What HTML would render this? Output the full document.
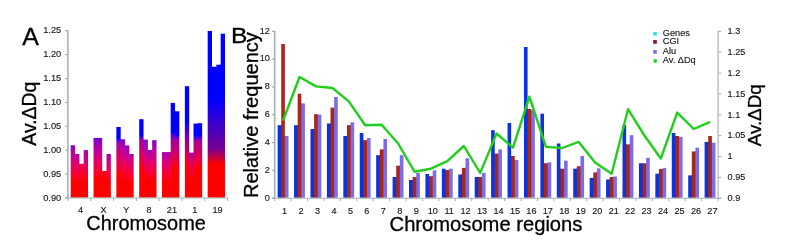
<!DOCTYPE html>
<html><head><meta charset="utf-8"><title>Figure</title>
<style>
html,body{margin:0;padding:0;background:#fff;}
body{width:785px;height:246px;overflow:hidden;}
svg{display:block;font-family:"Liberation Sans",Arial,sans-serif;filter:blur(0.45px);}
</style></head><body>
<svg width="785" height="246" viewBox="0 0 785 246">
<rect width="785" height="246" fill="#ffffff"/>
<defs><linearGradient id="g1" gradientUnits="userSpaceOnUse" x1="0" y1="197.60" x2="0" y2="145.30"><stop offset="0.000" stop-color="#ff0000"/><stop offset="0.307" stop-color="#ff0000"/><stop offset="0.365" stop-color="#fe0013"/><stop offset="0.423" stop-color="#fa0025"/><stop offset="0.481" stop-color="#f60037"/><stop offset="0.538" stop-color="#f00048"/><stop offset="0.596" stop-color="#e90059"/><stop offset="0.654" stop-color="#e1006a"/><stop offset="0.711" stop-color="#d7007a"/><stop offset="0.769" stop-color="#cc008a"/><stop offset="0.827" stop-color="#bf009b"/><stop offset="0.885" stop-color="#b000ab"/><stop offset="0.942" stop-color="#9f00bb"/><stop offset="1.000" stop-color="#8b00cb"/></linearGradient><linearGradient id="g2" gradientUnits="userSpaceOnUse" x1="0" y1="197.60" x2="0" y2="154.00"><stop offset="0.000" stop-color="#ff0000"/><stop offset="0.344" stop-color="#ff0000"/><stop offset="0.399" stop-color="#fe0011"/><stop offset="0.454" stop-color="#fc0020"/><stop offset="0.508" stop-color="#f8002f"/><stop offset="0.563" stop-color="#f4003e"/><stop offset="0.618" stop-color="#ef004c"/><stop offset="0.672" stop-color="#e8005a"/><stop offset="0.727" stop-color="#e10069"/><stop offset="0.781" stop-color="#d90077"/><stop offset="0.836" stop-color="#d00084"/><stop offset="0.891" stop-color="#c60092"/><stop offset="0.945" stop-color="#ba00a0"/><stop offset="1.000" stop-color="#ad00ae"/></linearGradient><linearGradient id="g3" gradientUnits="userSpaceOnUse" x1="0" y1="197.60" x2="0" y2="163.80"><stop offset="0.000" stop-color="#ff0000"/><stop offset="0.444" stop-color="#ff0000"/><stop offset="0.490" stop-color="#ff0007"/><stop offset="0.536" stop-color="#fe000d"/><stop offset="0.583" stop-color="#fe0014"/><stop offset="0.629" stop-color="#fd001a"/><stop offset="0.676" stop-color="#fc0020"/><stop offset="0.722" stop-color="#fa0026"/><stop offset="0.768" stop-color="#f9002c"/><stop offset="0.815" stop-color="#f80031"/><stop offset="0.861" stop-color="#f60037"/><stop offset="0.907" stop-color="#f4003d"/><stop offset="0.954" stop-color="#f20043"/><stop offset="1.000" stop-color="#f00049"/></linearGradient><linearGradient id="g4" gradientUnits="userSpaceOnUse" x1="0" y1="197.60" x2="0" y2="150.10"><stop offset="0.000" stop-color="#ff0000"/><stop offset="0.326" stop-color="#ff0000"/><stop offset="0.382" stop-color="#fe0012"/><stop offset="0.438" stop-color="#fb0023"/><stop offset="0.494" stop-color="#f70033"/><stop offset="0.550" stop-color="#f20042"/><stop offset="0.607" stop-color="#ec0052"/><stop offset="0.663" stop-color="#e50061"/><stop offset="0.719" stop-color="#dd0071"/><stop offset="0.775" stop-color="#d30080"/><stop offset="0.831" stop-color="#c8008f"/><stop offset="0.888" stop-color="#bc009e"/><stop offset="0.944" stop-color="#ae00ad"/><stop offset="1.000" stop-color="#9e00bc"/></linearGradient><linearGradient id="g5" gradientUnits="userSpaceOnUse" x1="0" y1="197.60" x2="0" y2="137.90"><stop offset="0.000" stop-color="#ff0000"/><stop offset="0.302" stop-color="#ff0000"/><stop offset="0.360" stop-color="#fd0015"/><stop offset="0.418" stop-color="#fa0028"/><stop offset="0.476" stop-color="#f5003b"/><stop offset="0.534" stop-color="#ee004e"/><stop offset="0.593" stop-color="#e60060"/><stop offset="0.651" stop-color="#dc0072"/><stop offset="0.709" stop-color="#d00084"/><stop offset="0.767" stop-color="#c30095"/><stop offset="0.825" stop-color="#b400a7"/><stop offset="0.884" stop-color="#a200b8"/><stop offset="0.942" stop-color="#8d00ca"/><stop offset="1.000" stop-color="#7300db"/></linearGradient><linearGradient id="g6" gradientUnits="userSpaceOnUse" x1="0" y1="197.60" x2="0" y2="137.90"><stop offset="0.000" stop-color="#ff0000"/><stop offset="0.302" stop-color="#ff0000"/><stop offset="0.360" stop-color="#fd0015"/><stop offset="0.418" stop-color="#fa0028"/><stop offset="0.476" stop-color="#f5003b"/><stop offset="0.534" stop-color="#ee004e"/><stop offset="0.593" stop-color="#e60060"/><stop offset="0.651" stop-color="#dc0072"/><stop offset="0.709" stop-color="#d00084"/><stop offset="0.767" stop-color="#c30095"/><stop offset="0.825" stop-color="#b400a7"/><stop offset="0.884" stop-color="#a200b8"/><stop offset="0.942" stop-color="#8d00ca"/><stop offset="1.000" stop-color="#7300db"/></linearGradient><linearGradient id="g7" gradientUnits="userSpaceOnUse" x1="0" y1="197.60" x2="0" y2="171.00"><stop offset="0.000" stop-color="#ff0000"/><stop offset="0.564" stop-color="#ff0000"/><stop offset="0.600" stop-color="#ff0002"/><stop offset="0.637" stop-color="#ff0003"/><stop offset="0.673" stop-color="#ff0005"/><stop offset="0.709" stop-color="#ff0006"/><stop offset="0.746" stop-color="#ff0008"/><stop offset="0.782" stop-color="#ff0009"/><stop offset="0.818" stop-color="#ff000a"/><stop offset="0.855" stop-color="#fe000c"/><stop offset="0.891" stop-color="#fe000d"/><stop offset="0.927" stop-color="#fe000e"/><stop offset="0.964" stop-color="#fe0010"/><stop offset="1.000" stop-color="#fe0011"/></linearGradient><linearGradient id="g8" gradientUnits="userSpaceOnUse" x1="0" y1="197.60" x2="0" y2="154.00"><stop offset="0.000" stop-color="#ff0000"/><stop offset="0.344" stop-color="#ff0000"/><stop offset="0.399" stop-color="#fe0011"/><stop offset="0.454" stop-color="#fc0020"/><stop offset="0.508" stop-color="#f8002f"/><stop offset="0.563" stop-color="#f4003e"/><stop offset="0.618" stop-color="#ef004c"/><stop offset="0.672" stop-color="#e8005a"/><stop offset="0.727" stop-color="#e10069"/><stop offset="0.781" stop-color="#d90077"/><stop offset="0.836" stop-color="#d00084"/><stop offset="0.891" stop-color="#c60092"/><stop offset="0.945" stop-color="#ba00a0"/><stop offset="1.000" stop-color="#ad00ae"/></linearGradient><linearGradient id="g9" gradientUnits="userSpaceOnUse" x1="0" y1="197.60" x2="0" y2="127.00"><stop offset="0.000" stop-color="#ff0000"/><stop offset="0.353" stop-color="#ff0000"/><stop offset="0.386" stop-color="#f90021"/><stop offset="0.420" stop-color="#f30032"/><stop offset="0.454" stop-color="#ed0041"/><stop offset="0.488" stop-color="#e6004e"/><stop offset="0.522" stop-color="#e00059"/><stop offset="0.556" stop-color="#d90064"/><stop offset="0.589" stop-color="#d3006e"/><stop offset="0.623" stop-color="#cc0078"/><stop offset="0.657" stop-color="#c50081"/><stop offset="0.691" stop-color="#be008a"/><stop offset="0.725" stop-color="#b70093"/><stop offset="0.758" stop-color="#af009b"/><stop offset="0.764" stop-color="#a600a4"/><stop offset="0.770" stop-color="#9d00ae"/><stop offset="0.776" stop-color="#9300b7"/><stop offset="0.782" stop-color="#8800c0"/><stop offset="0.788" stop-color="#7d00c8"/><stop offset="0.794" stop-color="#7200d1"/><stop offset="0.800" stop-color="#6500d9"/><stop offset="0.806" stop-color="#5800e1"/><stop offset="0.811" stop-color="#4a00e8"/><stop offset="0.817" stop-color="#3900f0"/><stop offset="0.823" stop-color="#2500f8"/><stop offset="0.829" stop-color="#0000ff"/><stop offset="1.000" stop-color="#0000ff"/></linearGradient><linearGradient id="g10" gradientUnits="userSpaceOnUse" x1="0" y1="197.60" x2="0" y2="139.30"><stop offset="0.000" stop-color="#ff0000"/><stop offset="0.303" stop-color="#ff0000"/><stop offset="0.361" stop-color="#fd0015"/><stop offset="0.419" stop-color="#fa0028"/><stop offset="0.477" stop-color="#f5003a"/><stop offset="0.535" stop-color="#ee004d"/><stop offset="0.593" stop-color="#e6005e"/><stop offset="0.651" stop-color="#dd0070"/><stop offset="0.709" stop-color="#d20082"/><stop offset="0.768" stop-color="#c50093"/><stop offset="0.826" stop-color="#b600a5"/><stop offset="0.884" stop-color="#a500b6"/><stop offset="0.942" stop-color="#9100c7"/><stop offset="1.000" stop-color="#7800d8"/></linearGradient><linearGradient id="g11" gradientUnits="userSpaceOnUse" x1="0" y1="197.60" x2="0" y2="145.50"><stop offset="0.000" stop-color="#ff0000"/><stop offset="0.308" stop-color="#ff0000"/><stop offset="0.365" stop-color="#fe0013"/><stop offset="0.423" stop-color="#fb0025"/><stop offset="0.481" stop-color="#f60037"/><stop offset="0.538" stop-color="#f00048"/><stop offset="0.596" stop-color="#e90059"/><stop offset="0.654" stop-color="#e10069"/><stop offset="0.712" stop-color="#d7007a"/><stop offset="0.769" stop-color="#cc008a"/><stop offset="0.827" stop-color="#bf009a"/><stop offset="0.885" stop-color="#b000ab"/><stop offset="0.942" stop-color="#9f00bb"/><stop offset="1.000" stop-color="#8c00cb"/></linearGradient><linearGradient id="g12" gradientUnits="userSpaceOnUse" x1="0" y1="197.60" x2="0" y2="154.00"><stop offset="0.000" stop-color="#ff0000"/><stop offset="0.344" stop-color="#ff0000"/><stop offset="0.399" stop-color="#fe0011"/><stop offset="0.454" stop-color="#fc0020"/><stop offset="0.508" stop-color="#f8002f"/><stop offset="0.563" stop-color="#f4003e"/><stop offset="0.618" stop-color="#ef004c"/><stop offset="0.672" stop-color="#e8005a"/><stop offset="0.727" stop-color="#e10069"/><stop offset="0.781" stop-color="#d90077"/><stop offset="0.836" stop-color="#d00084"/><stop offset="0.891" stop-color="#c60092"/><stop offset="0.945" stop-color="#ba00a0"/><stop offset="1.000" stop-color="#ad00ae"/></linearGradient><linearGradient id="g13" gradientUnits="userSpaceOnUse" x1="0" y1="197.60" x2="0" y2="119.20"><stop offset="0.000" stop-color="#ff0000"/><stop offset="0.381" stop-color="#ff0000"/><stop offset="0.410" stop-color="#f8001b"/><stop offset="0.439" stop-color="#f1002b"/><stop offset="0.467" stop-color="#ea0039"/><stop offset="0.496" stop-color="#e30046"/><stop offset="0.525" stop-color="#dc0051"/><stop offset="0.553" stop-color="#d4005c"/><stop offset="0.582" stop-color="#cd0067"/><stop offset="0.611" stop-color="#c50071"/><stop offset="0.639" stop-color="#bd007a"/><stop offset="0.668" stop-color="#b60084"/><stop offset="0.697" stop-color="#ae008d"/><stop offset="0.725" stop-color="#a50096"/><stop offset="0.731" stop-color="#9c009f"/><stop offset="0.736" stop-color="#9200a9"/><stop offset="0.741" stop-color="#8700b2"/><stop offset="0.747" stop-color="#7d00bc"/><stop offset="0.752" stop-color="#7200c4"/><stop offset="0.757" stop-color="#6600cd"/><stop offset="0.763" stop-color="#5a00d6"/><stop offset="0.768" stop-color="#4d00de"/><stop offset="0.773" stop-color="#3f00e7"/><stop offset="0.779" stop-color="#3000ef"/><stop offset="0.784" stop-color="#1d00f7"/><stop offset="0.789" stop-color="#0000ff"/><stop offset="1.000" stop-color="#0000ff"/></linearGradient><linearGradient id="g14" gradientUnits="userSpaceOnUse" x1="0" y1="197.60" x2="0" y2="139.60"><stop offset="0.000" stop-color="#ff0000"/><stop offset="0.303" stop-color="#ff0000"/><stop offset="0.361" stop-color="#fd0015"/><stop offset="0.419" stop-color="#fa0028"/><stop offset="0.477" stop-color="#f5003a"/><stop offset="0.535" stop-color="#ee004c"/><stop offset="0.593" stop-color="#e6005e"/><stop offset="0.651" stop-color="#dd0070"/><stop offset="0.709" stop-color="#d20081"/><stop offset="0.768" stop-color="#c50093"/><stop offset="0.826" stop-color="#b600a4"/><stop offset="0.884" stop-color="#a500b5"/><stop offset="0.942" stop-color="#9100c6"/><stop offset="1.000" stop-color="#7900d7"/></linearGradient><linearGradient id="g15" gradientUnits="userSpaceOnUse" x1="0" y1="197.60" x2="0" y2="150.00"><stop offset="0.000" stop-color="#ff0000"/><stop offset="0.325" stop-color="#ff0000"/><stop offset="0.381" stop-color="#fe0012"/><stop offset="0.438" stop-color="#fb0023"/><stop offset="0.494" stop-color="#f70033"/><stop offset="0.550" stop-color="#f20043"/><stop offset="0.606" stop-color="#ec0052"/><stop offset="0.663" stop-color="#e50062"/><stop offset="0.719" stop-color="#dc0071"/><stop offset="0.775" stop-color="#d30080"/><stop offset="0.831" stop-color="#c8008f"/><stop offset="0.888" stop-color="#bc009e"/><stop offset="0.944" stop-color="#ae00ad"/><stop offset="1.000" stop-color="#9e00bc"/></linearGradient><linearGradient id="g16" gradientUnits="userSpaceOnUse" x1="0" y1="197.60" x2="0" y2="140.20"><stop offset="0.000" stop-color="#ff0000"/><stop offset="0.303" stop-color="#ff0000"/><stop offset="0.361" stop-color="#fd0014"/><stop offset="0.419" stop-color="#fa0027"/><stop offset="0.477" stop-color="#f5003a"/><stop offset="0.535" stop-color="#ef004c"/><stop offset="0.594" stop-color="#e7005e"/><stop offset="0.652" stop-color="#dd006f"/><stop offset="0.710" stop-color="#d20081"/><stop offset="0.768" stop-color="#c60092"/><stop offset="0.826" stop-color="#b700a3"/><stop offset="0.884" stop-color="#a700b4"/><stop offset="0.942" stop-color="#9300c5"/><stop offset="1.000" stop-color="#7b00d6"/></linearGradient><linearGradient id="g17" gradientUnits="userSpaceOnUse" x1="0" y1="197.60" x2="0" y2="152.10"><stop offset="0.000" stop-color="#ff0000"/><stop offset="0.335" stop-color="#ff0000"/><stop offset="0.390" stop-color="#fe0011"/><stop offset="0.446" stop-color="#fb0021"/><stop offset="0.501" stop-color="#f80031"/><stop offset="0.557" stop-color="#f30040"/><stop offset="0.612" stop-color="#ed004f"/><stop offset="0.667" stop-color="#e7005e"/><stop offset="0.723" stop-color="#df006d"/><stop offset="0.778" stop-color="#d6007b"/><stop offset="0.834" stop-color="#cc008a"/><stop offset="0.889" stop-color="#c10098"/><stop offset="0.945" stop-color="#b400a6"/><stop offset="1.000" stop-color="#a600b5"/></linearGradient><linearGradient id="g18" gradientUnits="userSpaceOnUse" x1="0" y1="197.60" x2="0" y2="152.10"><stop offset="0.000" stop-color="#ff0000"/><stop offset="0.335" stop-color="#ff0000"/><stop offset="0.390" stop-color="#fe0011"/><stop offset="0.446" stop-color="#fb0021"/><stop offset="0.501" stop-color="#f80031"/><stop offset="0.557" stop-color="#f30040"/><stop offset="0.612" stop-color="#ed004f"/><stop offset="0.667" stop-color="#e7005e"/><stop offset="0.723" stop-color="#df006d"/><stop offset="0.778" stop-color="#d6007b"/><stop offset="0.834" stop-color="#cc008a"/><stop offset="0.889" stop-color="#c10098"/><stop offset="0.945" stop-color="#b400a6"/><stop offset="1.000" stop-color="#a600b5"/></linearGradient><linearGradient id="g19" gradientUnits="userSpaceOnUse" x1="0" y1="197.60" x2="0" y2="102.90"><stop offset="0.000" stop-color="#ff0000"/><stop offset="0.320" stop-color="#ff0000"/><stop offset="0.344" stop-color="#f7001a"/><stop offset="0.368" stop-color="#f0002b"/><stop offset="0.392" stop-color="#e8003a"/><stop offset="0.416" stop-color="#e00047"/><stop offset="0.440" stop-color="#d80053"/><stop offset="0.464" stop-color="#d0005f"/><stop offset="0.488" stop-color="#c7006a"/><stop offset="0.512" stop-color="#bf0074"/><stop offset="0.536" stop-color="#b6007f"/><stop offset="0.560" stop-color="#ae0088"/><stop offset="0.584" stop-color="#a50092"/><stop offset="0.608" stop-color="#9b009b"/><stop offset="0.615" stop-color="#9200a5"/><stop offset="0.622" stop-color="#8800ae"/><stop offset="0.628" stop-color="#7f00b6"/><stop offset="0.635" stop-color="#7400bf"/><stop offset="0.641" stop-color="#6a00c7"/><stop offset="0.648" stop-color="#5f00d0"/><stop offset="0.655" stop-color="#5300d8"/><stop offset="0.661" stop-color="#4700e0"/><stop offset="0.668" stop-color="#3a00e8"/><stop offset="0.675" stop-color="#2b00f0"/><stop offset="0.681" stop-color="#1a00f7"/><stop offset="0.688" stop-color="#0000ff"/><stop offset="1.000" stop-color="#0000ff"/></linearGradient><linearGradient id="g20" gradientUnits="userSpaceOnUse" x1="0" y1="197.60" x2="0" y2="111.30"><stop offset="0.000" stop-color="#ff0000"/><stop offset="0.344" stop-color="#ff0000"/><stop offset="0.371" stop-color="#f8001b"/><stop offset="0.398" stop-color="#f0002c"/><stop offset="0.424" stop-color="#e9003a"/><stop offset="0.451" stop-color="#e10047"/><stop offset="0.478" stop-color="#d90053"/><stop offset="0.504" stop-color="#d1005f"/><stop offset="0.531" stop-color="#c90069"/><stop offset="0.558" stop-color="#c10074"/><stop offset="0.585" stop-color="#b9007e"/><stop offset="0.611" stop-color="#b10087"/><stop offset="0.638" stop-color="#a80091"/><stop offset="0.665" stop-color="#9f009a"/><stop offset="0.670" stop-color="#9600a3"/><stop offset="0.674" stop-color="#8c00ac"/><stop offset="0.679" stop-color="#8200b5"/><stop offset="0.684" stop-color="#7800be"/><stop offset="0.689" stop-color="#6d00c7"/><stop offset="0.694" stop-color="#6200cf"/><stop offset="0.699" stop-color="#5600d7"/><stop offset="0.703" stop-color="#4900e0"/><stop offset="0.708" stop-color="#3c00e8"/><stop offset="0.713" stop-color="#2d00ef"/><stop offset="0.718" stop-color="#1c00f7"/><stop offset="0.723" stop-color="#0000ff"/><stop offset="1.000" stop-color="#0000ff"/></linearGradient><linearGradient id="g21" gradientUnits="userSpaceOnUse" x1="0" y1="197.60" x2="0" y2="86.20"><stop offset="0.000" stop-color="#ff0000"/><stop offset="0.293" stop-color="#ff0000"/><stop offset="0.311" stop-color="#f60014"/><stop offset="0.330" stop-color="#ee0022"/><stop offset="0.348" stop-color="#e50030"/><stop offset="0.367" stop-color="#dc003c"/><stop offset="0.386" stop-color="#d30048"/><stop offset="0.404" stop-color="#ca0054"/><stop offset="0.423" stop-color="#c1005f"/><stop offset="0.441" stop-color="#b80069"/><stop offset="0.460" stop-color="#ae0074"/><stop offset="0.478" stop-color="#a5007e"/><stop offset="0.497" stop-color="#9b0088"/><stop offset="0.515" stop-color="#920092"/><stop offset="0.528" stop-color="#88009c"/><stop offset="0.541" stop-color="#7e00a5"/><stop offset="0.554" stop-color="#7300af"/><stop offset="0.566" stop-color="#6900b8"/><stop offset="0.579" stop-color="#5e00c1"/><stop offset="0.592" stop-color="#5300ca"/><stop offset="0.605" stop-color="#4800d3"/><stop offset="0.617" stop-color="#3c00dc"/><stop offset="0.630" stop-color="#3000e5"/><stop offset="0.643" stop-color="#2200ee"/><stop offset="0.656" stop-color="#1400f6"/><stop offset="0.669" stop-color="#0000ff"/><stop offset="1.000" stop-color="#0000ff"/></linearGradient><linearGradient id="g22" gradientUnits="userSpaceOnUse" x1="0" y1="197.60" x2="0" y2="152.70"><stop offset="0.000" stop-color="#ff0000"/><stop offset="0.338" stop-color="#ff0000"/><stop offset="0.393" stop-color="#fe0011"/><stop offset="0.448" stop-color="#fb0021"/><stop offset="0.503" stop-color="#f80030"/><stop offset="0.558" stop-color="#f3003f"/><stop offset="0.614" stop-color="#ee004e"/><stop offset="0.669" stop-color="#e7005d"/><stop offset="0.724" stop-color="#e0006b"/><stop offset="0.779" stop-color="#d7007a"/><stop offset="0.834" stop-color="#cd0088"/><stop offset="0.890" stop-color="#c20096"/><stop offset="0.945" stop-color="#b600a4"/><stop offset="1.000" stop-color="#a800b3"/></linearGradient><linearGradient id="g23" gradientUnits="userSpaceOnUse" x1="0" y1="197.60" x2="0" y2="123.60"><stop offset="0.000" stop-color="#ff0000"/><stop offset="0.405" stop-color="#ff0000"/><stop offset="0.435" stop-color="#f8001a"/><stop offset="0.465" stop-color="#f2002b"/><stop offset="0.495" stop-color="#eb0039"/><stop offset="0.525" stop-color="#e40045"/><stop offset="0.555" stop-color="#dd0050"/><stop offset="0.585" stop-color="#d6005b"/><stop offset="0.615" stop-color="#cf0065"/><stop offset="0.645" stop-color="#c7006f"/><stop offset="0.675" stop-color="#c00079"/><stop offset="0.705" stop-color="#b80082"/><stop offset="0.735" stop-color="#b1008a"/><stop offset="0.765" stop-color="#a90093"/><stop offset="0.770" stop-color="#9f009d"/><stop offset="0.776" stop-color="#9500a7"/><stop offset="0.782" stop-color="#8a00b1"/><stop offset="0.787" stop-color="#8000ba"/><stop offset="0.793" stop-color="#7400c3"/><stop offset="0.799" stop-color="#6900cc"/><stop offset="0.804" stop-color="#5c00d5"/><stop offset="0.810" stop-color="#4f00de"/><stop offset="0.816" stop-color="#4100e6"/><stop offset="0.821" stop-color="#3100ef"/><stop offset="0.827" stop-color="#1e00f7"/><stop offset="0.832" stop-color="#0000ff"/><stop offset="1.000" stop-color="#0000ff"/></linearGradient><linearGradient id="g24" gradientUnits="userSpaceOnUse" x1="0" y1="197.60" x2="0" y2="123.20"><stop offset="0.000" stop-color="#ff0000"/><stop offset="0.403" stop-color="#ff0000"/><stop offset="0.433" stop-color="#f8001b"/><stop offset="0.463" stop-color="#f2002b"/><stop offset="0.493" stop-color="#eb0039"/><stop offset="0.522" stop-color="#e40045"/><stop offset="0.552" stop-color="#dd0050"/><stop offset="0.582" stop-color="#d6005b"/><stop offset="0.612" stop-color="#cf0066"/><stop offset="0.642" stop-color="#c7006f"/><stop offset="0.672" stop-color="#c00079"/><stop offset="0.701" stop-color="#b80082"/><stop offset="0.731" stop-color="#b0008b"/><stop offset="0.761" stop-color="#a90093"/><stop offset="0.767" stop-color="#9f009d"/><stop offset="0.772" stop-color="#9500a7"/><stop offset="0.778" stop-color="#8a00b1"/><stop offset="0.783" stop-color="#7f00ba"/><stop offset="0.789" stop-color="#7400c3"/><stop offset="0.795" stop-color="#6800cc"/><stop offset="0.800" stop-color="#5c00d5"/><stop offset="0.806" stop-color="#4f00de"/><stop offset="0.811" stop-color="#4100e6"/><stop offset="0.817" stop-color="#3100ef"/><stop offset="0.823" stop-color="#1e00f7"/><stop offset="0.828" stop-color="#0000ff"/><stop offset="1.000" stop-color="#0000ff"/></linearGradient><linearGradient id="g25" gradientUnits="userSpaceOnUse" x1="0" y1="197.60" x2="0" y2="31.00"><stop offset="0.000" stop-color="#ff0000"/><stop offset="0.201" stop-color="#ff0000"/><stop offset="0.209" stop-color="#f4000e"/><stop offset="0.216" stop-color="#e9001a"/><stop offset="0.224" stop-color="#dd0027"/><stop offset="0.231" stop-color="#d20033"/><stop offset="0.239" stop-color="#c7003f"/><stop offset="0.246" stop-color="#bc004b"/><stop offset="0.254" stop-color="#b00056"/><stop offset="0.261" stop-color="#a50062"/><stop offset="0.269" stop-color="#9a006e"/><stop offset="0.276" stop-color="#8e0079"/><stop offset="0.284" stop-color="#830085"/><stop offset="0.291" stop-color="#770090"/><stop offset="0.316" stop-color="#6e009a"/><stop offset="0.340" stop-color="#6400a3"/><stop offset="0.365" stop-color="#5b00ac"/><stop offset="0.389" stop-color="#5100b6"/><stop offset="0.414" stop-color="#4700bf"/><stop offset="0.438" stop-color="#3e00c8"/><stop offset="0.463" stop-color="#3400d1"/><stop offset="0.488" stop-color="#2a00da"/><stop offset="0.512" stop-color="#2000e4"/><stop offset="0.537" stop-color="#1600ed"/><stop offset="0.561" stop-color="#0b00f6"/><stop offset="0.586" stop-color="#0000ff"/><stop offset="1.000" stop-color="#0000ff"/></linearGradient><linearGradient id="g26" gradientUnits="userSpaceOnUse" x1="0" y1="197.60" x2="0" y2="66.80"><stop offset="0.000" stop-color="#ff0000"/><stop offset="0.256" stop-color="#ff0000"/><stop offset="0.266" stop-color="#f4000e"/><stop offset="0.275" stop-color="#e9001a"/><stop offset="0.285" stop-color="#de0027"/><stop offset="0.295" stop-color="#d20033"/><stop offset="0.304" stop-color="#c7003f"/><stop offset="0.314" stop-color="#bc004b"/><stop offset="0.323" stop-color="#b10056"/><stop offset="0.333" stop-color="#a50062"/><stop offset="0.343" stop-color="#9a006e"/><stop offset="0.352" stop-color="#8e0079"/><stop offset="0.362" stop-color="#830085"/><stop offset="0.371" stop-color="#770090"/><stop offset="0.403" stop-color="#6e009a"/><stop offset="0.434" stop-color="#6400a3"/><stop offset="0.465" stop-color="#5b00ac"/><stop offset="0.496" stop-color="#5100b6"/><stop offset="0.527" stop-color="#4800bf"/><stop offset="0.558" stop-color="#3e00c8"/><stop offset="0.589" stop-color="#3400d1"/><stop offset="0.620" stop-color="#2a00da"/><stop offset="0.651" stop-color="#2000e4"/><stop offset="0.682" stop-color="#1600ed"/><stop offset="0.713" stop-color="#0b00f6"/><stop offset="0.744" stop-color="#0000ff"/><stop offset="1.000" stop-color="#0000ff"/></linearGradient><linearGradient id="g27" gradientUnits="userSpaceOnUse" x1="0" y1="197.60" x2="0" y2="64.70"><stop offset="0.000" stop-color="#ff0000"/><stop offset="0.252" stop-color="#ff0000"/><stop offset="0.261" stop-color="#f4000e"/><stop offset="0.271" stop-color="#e9001a"/><stop offset="0.280" stop-color="#dd0027"/><stop offset="0.290" stop-color="#d20033"/><stop offset="0.299" stop-color="#c7003f"/><stop offset="0.309" stop-color="#bc004b"/><stop offset="0.318" stop-color="#b00056"/><stop offset="0.327" stop-color="#a50062"/><stop offset="0.337" stop-color="#9a006e"/><stop offset="0.346" stop-color="#8e0079"/><stop offset="0.356" stop-color="#830085"/><stop offset="0.365" stop-color="#770090"/><stop offset="0.396" stop-color="#6e009a"/><stop offset="0.427" stop-color="#6400a3"/><stop offset="0.457" stop-color="#5b00ac"/><stop offset="0.488" stop-color="#5100b6"/><stop offset="0.519" stop-color="#4700bf"/><stop offset="0.550" stop-color="#3e00c8"/><stop offset="0.580" stop-color="#3400d1"/><stop offset="0.611" stop-color="#2a00da"/><stop offset="0.642" stop-color="#2000e4"/><stop offset="0.673" stop-color="#1600ed"/><stop offset="0.704" stop-color="#0b00f6"/><stop offset="0.734" stop-color="#0000ff"/><stop offset="1.000" stop-color="#0000ff"/></linearGradient><linearGradient id="g28" gradientUnits="userSpaceOnUse" x1="0" y1="197.60" x2="0" y2="33.70"><stop offset="0.000" stop-color="#ff0000"/><stop offset="0.204" stop-color="#ff0000"/><stop offset="0.212" stop-color="#f4000e"/><stop offset="0.220" stop-color="#e9001a"/><stop offset="0.227" stop-color="#dd0027"/><stop offset="0.235" stop-color="#d20033"/><stop offset="0.243" stop-color="#c7003f"/><stop offset="0.250" stop-color="#bc004b"/><stop offset="0.258" stop-color="#b00056"/><stop offset="0.265" stop-color="#a50062"/><stop offset="0.273" stop-color="#9a006e"/><stop offset="0.281" stop-color="#8e0079"/><stop offset="0.288" stop-color="#830085"/><stop offset="0.296" stop-color="#770090"/><stop offset="0.321" stop-color="#6e009a"/><stop offset="0.346" stop-color="#6400a3"/><stop offset="0.371" stop-color="#5b00ac"/><stop offset="0.396" stop-color="#5100b6"/><stop offset="0.421" stop-color="#4700bf"/><stop offset="0.446" stop-color="#3e00c8"/><stop offset="0.471" stop-color="#3400d1"/><stop offset="0.496" stop-color="#2a00da"/><stop offset="0.521" stop-color="#2000e4"/><stop offset="0.546" stop-color="#1600ed"/><stop offset="0.571" stop-color="#0b00f6"/><stop offset="0.595" stop-color="#0000ff"/><stop offset="1.000" stop-color="#0000ff"/></linearGradient></defs>
<g><rect x="75" y="154.00" width="1" height="43.60" fill="url(#g1)"/><rect x="79" y="163.80" width="1" height="33.80" fill="url(#g2)"/><rect x="83" y="163.80" width="1" height="33.80" fill="url(#g3)"/><rect x="97" y="137.90" width="1" height="59.70" fill="url(#g5)"/><rect x="102" y="171.00" width="1" height="26.60" fill="url(#g6)"/><rect x="106" y="171.00" width="1" height="26.60" fill="url(#g7)"/><rect x="120" y="139.30" width="1" height="58.30" fill="url(#g9)"/><rect x="125" y="145.50" width="1" height="52.10" fill="url(#g10)"/><rect x="129" y="154.00" width="1" height="43.60" fill="url(#g11)"/><rect x="143" y="139.60" width="1" height="58.00" fill="url(#g13)"/><rect x="147" y="150.00" width="1" height="47.60" fill="url(#g14)"/><rect x="152" y="150.00" width="1" height="47.60" fill="url(#g15)"/><rect x="166" y="152.10" width="1" height="45.50" fill="url(#g17)"/><rect x="170" y="152.10" width="1" height="45.50" fill="url(#g18)"/><rect x="175" y="111.30" width="1" height="86.30" fill="url(#g19)"/><rect x="189" y="152.70" width="1" height="44.90" fill="url(#g21)"/><rect x="193" y="152.70" width="1" height="44.90" fill="url(#g22)"/><rect x="197" y="123.60" width="1" height="74.00" fill="url(#g23)"/><rect x="212" y="66.80" width="1" height="130.80" fill="url(#g25)"/><rect x="216" y="66.80" width="1" height="130.80" fill="url(#g26)"/><rect x="220" y="64.70" width="1" height="132.90" fill="url(#g27)"/></g>
<g><rect x="70.70" y="145.30" width="4.33" height="52.30" fill="url(#g1)"/><rect x="75.03" y="154.00" width="4.33" height="43.60" fill="url(#g2)"/><rect x="79.36" y="163.80" width="4.33" height="33.80" fill="url(#g3)"/><rect x="83.69" y="150.10" width="4.33" height="47.50" fill="url(#g4)"/><rect x="93.53" y="137.90" width="4.33" height="59.70" fill="url(#g5)"/><rect x="97.86" y="137.90" width="4.33" height="59.70" fill="url(#g6)"/><rect x="102.19" y="171.00" width="4.33" height="26.60" fill="url(#g7)"/><rect x="106.52" y="154.00" width="4.33" height="43.60" fill="url(#g8)"/><rect x="116.36" y="127.00" width="4.33" height="70.60" fill="url(#g9)"/><rect x="120.69" y="139.30" width="4.33" height="58.30" fill="url(#g10)"/><rect x="125.02" y="145.50" width="4.33" height="52.10" fill="url(#g11)"/><rect x="129.35" y="154.00" width="4.33" height="43.60" fill="url(#g12)"/><rect x="139.19" y="119.20" width="4.33" height="78.40" fill="url(#g13)"/><rect x="143.52" y="139.60" width="4.33" height="58.00" fill="url(#g14)"/><rect x="147.85" y="150.00" width="4.33" height="47.60" fill="url(#g15)"/><rect x="152.18" y="140.20" width="4.33" height="57.40" fill="url(#g16)"/><rect x="162.02" y="152.10" width="4.33" height="45.50" fill="url(#g17)"/><rect x="166.35" y="152.10" width="4.33" height="45.50" fill="url(#g18)"/><rect x="170.68" y="102.90" width="4.33" height="94.70" fill="url(#g19)"/><rect x="175.01" y="111.30" width="4.33" height="86.30" fill="url(#g20)"/><rect x="184.85" y="86.20" width="4.33" height="111.40" fill="url(#g21)"/><rect x="189.18" y="152.70" width="4.33" height="44.90" fill="url(#g22)"/><rect x="193.51" y="123.60" width="4.33" height="74.00" fill="url(#g23)"/><rect x="197.84" y="123.20" width="4.33" height="74.40" fill="url(#g24)"/><rect x="207.68" y="31.00" width="4.33" height="166.60" fill="url(#g25)"/><rect x="212.01" y="66.80" width="4.33" height="130.80" fill="url(#g26)"/><rect x="216.34" y="64.70" width="4.33" height="132.90" fill="url(#g27)"/><rect x="220.67" y="33.70" width="4.33" height="163.90" fill="url(#g28)"/></g>
<g stroke="#a3b0b6" fill="none">
<line x1="67.90" y1="30.20" x2="67.90" y2="198.50" stroke-width="1.5"/>
<line x1="65.10" y1="198.00" x2="228.20" y2="198.00" stroke-width="1.1"/>
<line x1="65.30" y1="30.70" x2="67.40" y2="30.70" stroke-width="1" stroke="#8a959b"/>
<line x1="65.30" y1="54.60" x2="67.40" y2="54.60" stroke-width="1" stroke="#8a959b"/>
<line x1="65.30" y1="78.50" x2="67.40" y2="78.50" stroke-width="1" stroke="#8a959b"/>
<line x1="65.30" y1="102.40" x2="67.40" y2="102.40" stroke-width="1" stroke="#8a959b"/>
<line x1="65.30" y1="126.30" x2="67.40" y2="126.30" stroke-width="1" stroke="#8a959b"/>
<line x1="65.30" y1="150.20" x2="67.40" y2="150.20" stroke-width="1" stroke="#8a959b"/>
<line x1="65.30" y1="174.10" x2="67.40" y2="174.10" stroke-width="1" stroke="#8a959b"/>
<line x1="65.30" y1="198.00" x2="67.40" y2="198.00" stroke-width="1" stroke="#8a959b"/>
<line x1="67.90" y1="198.00" x2="67.90" y2="201.00" stroke-width="1"/>
<line x1="90.73" y1="198.00" x2="90.73" y2="201.00" stroke-width="1"/>
<line x1="113.56" y1="198.00" x2="113.56" y2="201.00" stroke-width="1"/>
<line x1="136.39" y1="198.00" x2="136.39" y2="201.00" stroke-width="1"/>
<line x1="159.21" y1="198.00" x2="159.21" y2="201.00" stroke-width="1"/>
<line x1="182.04" y1="198.00" x2="182.04" y2="201.00" stroke-width="1"/>
<line x1="204.87" y1="198.00" x2="204.87" y2="201.00" stroke-width="1"/>
<line x1="227.70" y1="198.00" x2="227.70" y2="201.00" stroke-width="1"/>
</g>
<g font-size="9.1" fill="#1a1a1a" stroke="#1a1a1a" stroke-width="0.15">
<text x="61.3" y="33.20" text-anchor="end" font-size="9.3">1.25</text>
<text x="61.3" y="57.10" text-anchor="end" font-size="9.3">1.20</text>
<text x="61.3" y="81.00" text-anchor="end" font-size="9.3">1.15</text>
<text x="61.3" y="104.90" text-anchor="end" font-size="9.3">1.10</text>
<text x="61.3" y="128.80" text-anchor="end" font-size="9.3">1.05</text>
<text x="61.3" y="152.70" text-anchor="end" font-size="9.3">1.00</text>
<text x="61.3" y="176.60" text-anchor="end" font-size="9.3">0.95</text>
<text x="61.3" y="200.50" text-anchor="end" font-size="9.3">0.90</text>
<text x="80.61" y="212.8" text-anchor="middle">4</text>
<text x="103.44" y="212.8" text-anchor="middle">X</text>
<text x="126.27" y="212.8" text-anchor="middle">Y</text>
<text x="149.10" y="212.8" text-anchor="middle">8</text>
<text x="171.93" y="212.8" text-anchor="middle">21</text>
<text x="194.76" y="212.8" text-anchor="middle">1</text>
<text x="217.59" y="212.8" text-anchor="middle">19</text>
</g>
<text x="86.3" y="230.3" font-size="19.8" textLength="119.5" lengthAdjust="spacingAndGlyphs" fill="#000" stroke="#000" stroke-width="0.3">Chromosome</text>
<text transform="translate(36.3,145.7) rotate(-90)" font-size="19.5" textLength="64" lengthAdjust="spacingAndGlyphs" fill="#000" stroke="#000" stroke-width="0.3">Av.ΔDq</text>
<text transform="translate(22.2,45.3) scale(1,0.95)" font-size="25" fill="#000" stroke="#000" stroke-width="0.3">A</text>
<text transform="translate(231.0,43.1) scale(1,0.886)" font-size="24.6" fill="#000" stroke="#000" stroke-width="0.3">B</text>
<g><rect x="281" y="125.20" width="1" height="72.50" fill="#0c34dd"/><rect x="284" y="136.00" width="1" height="61.70" fill="#a6281d"/><rect x="297" y="125.20" width="1" height="72.50" fill="#0c34dd"/><rect x="301" y="103.40" width="1" height="94.30" fill="#a6281d"/><rect x="314" y="129.00" width="1" height="68.70" fill="#0c34dd"/><rect x="317" y="114.60" width="1" height="83.10" fill="#a6281d"/><rect x="330" y="123.50" width="1" height="74.20" fill="#0c34dd"/><rect x="334" y="107.60" width="1" height="90.10" fill="#a6281d"/><rect x="346" y="136.00" width="1" height="61.70" fill="#0c34dd"/><rect x="350" y="125.20" width="1" height="72.50" fill="#a6281d"/><rect x="363" y="140.20" width="1" height="57.50" fill="#0c34dd"/><rect x="366" y="140.20" width="1" height="57.50" fill="#a6281d"/><rect x="379" y="155.20" width="1" height="42.50" fill="#0c34dd"/><rect x="383" y="149.40" width="1" height="48.30" fill="#a6281d"/><rect x="396" y="177.00" width="1" height="20.70" fill="#0c34dd"/><rect x="399" y="165.70" width="1" height="32.00" fill="#a6281d"/><rect x="412" y="180.00" width="1" height="17.70" fill="#0c34dd"/><rect x="416" y="177.00" width="1" height="20.70" fill="#a6281d"/><rect x="429" y="176.20" width="1" height="21.50" fill="#0c34dd"/><rect x="432" y="176.20" width="1" height="21.50" fill="#a6281d"/><rect x="445" y="170.00" width="1" height="27.70" fill="#0c34dd"/><rect x="449" y="170.00" width="1" height="27.70" fill="#a6281d"/><rect x="461" y="174.50" width="1" height="23.20" fill="#0c34dd"/><rect x="465" y="167.90" width="1" height="29.80" fill="#a6281d"/><rect x="478" y="177.00" width="1" height="20.70" fill="#0c34dd"/><rect x="481" y="177.00" width="1" height="20.70" fill="#a6281d"/><rect x="494" y="153.60" width="1" height="44.10" fill="#0c34dd"/><rect x="498" y="153.60" width="1" height="44.10" fill="#a6281d"/><rect x="511" y="156.00" width="1" height="41.70" fill="#0c34dd"/><rect x="514" y="160.00" width="1" height="37.70" fill="#a6281d"/><rect x="527" y="109.00" width="1" height="88.70" fill="#0c34dd"/><rect x="531" y="110.00" width="1" height="87.70" fill="#a6281d"/><rect x="544" y="163.30" width="1" height="34.40" fill="#0c34dd"/><rect x="547" y="163.30" width="1" height="34.40" fill="#a6281d"/><rect x="560" y="168.70" width="1" height="29.00" fill="#0c34dd"/><rect x="564" y="168.70" width="1" height="29.00" fill="#a6281d"/><rect x="576" y="168.70" width="1" height="29.00" fill="#0c34dd"/><rect x="580" y="166.20" width="1" height="31.50" fill="#a6281d"/><rect x="593" y="177.90" width="1" height="19.80" fill="#0c34dd"/><rect x="596" y="172.40" width="1" height="25.30" fill="#a6281d"/><rect x="609" y="179.50" width="1" height="18.20" fill="#0c34dd"/><rect x="613" y="177.00" width="1" height="20.70" fill="#a6281d"/><rect x="626" y="144.40" width="1" height="53.30" fill="#0c34dd"/><rect x="629" y="144.40" width="1" height="53.30" fill="#a6281d"/><rect x="642" y="163.30" width="1" height="34.40" fill="#0c34dd"/><rect x="646" y="163.30" width="1" height="34.40" fill="#a6281d"/><rect x="658" y="173.70" width="1" height="24.00" fill="#0c34dd"/><rect x="662" y="169.00" width="1" height="28.70" fill="#a6281d"/><rect x="675" y="136.00" width="1" height="61.70" fill="#0c34dd"/><rect x="679" y="136.90" width="1" height="60.80" fill="#a6281d"/><rect x="691" y="175.40" width="1" height="22.30" fill="#0c34dd"/><rect x="695" y="151.40" width="1" height="46.30" fill="#a6281d"/><rect x="708" y="141.90" width="1" height="55.80" fill="#0c34dd"/><rect x="711" y="142.70" width="1" height="55.00" fill="#a6281d"/></g>
<g><rect x="277.63" y="125.20" width="3.62" height="72.50" fill="#0c34dd"/><rect x="281.25" y="44.00" width="3.62" height="153.70" fill="#a6281d"/><rect x="284.87" y="136.00" width="3.62" height="61.70" fill="#7c6ce8"/><rect x="294.05" y="125.20" width="3.62" height="72.50" fill="#0c34dd"/><rect x="297.67" y="93.70" width="3.62" height="104.00" fill="#a6281d"/><rect x="301.29" y="103.40" width="3.62" height="94.30" fill="#7c6ce8"/><rect x="310.48" y="129.00" width="3.62" height="68.70" fill="#0c34dd"/><rect x="314.10" y="114.20" width="3.62" height="83.50" fill="#a6281d"/><rect x="317.72" y="114.60" width="3.62" height="83.10" fill="#7c6ce8"/><rect x="326.90" y="123.50" width="3.62" height="74.20" fill="#0c34dd"/><rect x="330.52" y="107.60" width="3.62" height="90.10" fill="#a6281d"/><rect x="334.14" y="97.00" width="3.62" height="100.70" fill="#7c6ce8"/><rect x="343.32" y="136.00" width="3.62" height="61.70" fill="#0c34dd"/><rect x="346.94" y="125.20" width="3.62" height="72.50" fill="#a6281d"/><rect x="350.56" y="122.30" width="3.62" height="75.40" fill="#7c6ce8"/><rect x="359.74" y="133.00" width="3.62" height="64.70" fill="#0c34dd"/><rect x="363.36" y="140.20" width="3.62" height="57.50" fill="#a6281d"/><rect x="366.98" y="138.00" width="3.62" height="59.70" fill="#7c6ce8"/><rect x="376.16" y="155.20" width="3.62" height="42.50" fill="#0c34dd"/><rect x="379.78" y="149.40" width="3.62" height="48.30" fill="#a6281d"/><rect x="383.40" y="139.00" width="3.62" height="58.70" fill="#7c6ce8"/><rect x="392.59" y="177.00" width="3.62" height="20.70" fill="#0c34dd"/><rect x="396.21" y="165.70" width="3.62" height="32.00" fill="#a6281d"/><rect x="399.83" y="155.20" width="3.62" height="42.50" fill="#7c6ce8"/><rect x="409.01" y="180.00" width="3.62" height="17.70" fill="#0c34dd"/><rect x="412.63" y="177.00" width="3.62" height="20.70" fill="#a6281d"/><rect x="416.25" y="172.90" width="3.62" height="24.80" fill="#7c6ce8"/><rect x="425.43" y="174.00" width="3.62" height="23.70" fill="#0c34dd"/><rect x="429.05" y="176.20" width="3.62" height="21.50" fill="#a6281d"/><rect x="432.67" y="170.40" width="3.62" height="27.30" fill="#7c6ce8"/><rect x="441.85" y="168.70" width="3.62" height="29.00" fill="#0c34dd"/><rect x="445.47" y="170.00" width="3.62" height="27.70" fill="#a6281d"/><rect x="449.09" y="168.70" width="3.62" height="29.00" fill="#7c6ce8"/><rect x="458.28" y="174.50" width="3.62" height="23.20" fill="#0c34dd"/><rect x="461.90" y="167.90" width="3.62" height="29.80" fill="#a6281d"/><rect x="465.52" y="158.30" width="3.62" height="39.40" fill="#7c6ce8"/><rect x="474.70" y="177.00" width="3.62" height="20.70" fill="#0c34dd"/><rect x="478.32" y="177.00" width="3.62" height="20.70" fill="#a6281d"/><rect x="481.94" y="172.90" width="3.62" height="24.80" fill="#7c6ce8"/><rect x="491.12" y="130.20" width="3.62" height="67.50" fill="#0c34dd"/><rect x="494.74" y="153.60" width="3.62" height="44.10" fill="#a6281d"/><rect x="498.36" y="149.40" width="3.62" height="48.30" fill="#7c6ce8"/><rect x="507.54" y="123.00" width="3.62" height="74.70" fill="#0c34dd"/><rect x="511.16" y="156.00" width="3.62" height="41.70" fill="#a6281d"/><rect x="514.78" y="160.00" width="3.62" height="37.70" fill="#7c6ce8"/><rect x="523.96" y="47.00" width="3.62" height="150.70" fill="#0c34dd"/><rect x="527.58" y="109.00" width="3.62" height="88.70" fill="#a6281d"/><rect x="531.20" y="110.00" width="3.62" height="87.70" fill="#7c6ce8"/><rect x="540.39" y="113.70" width="3.62" height="84.00" fill="#0c34dd"/><rect x="544.01" y="163.30" width="3.62" height="34.40" fill="#a6281d"/><rect x="547.63" y="162.30" width="3.62" height="35.40" fill="#7c6ce8"/><rect x="556.81" y="143.50" width="3.62" height="54.20" fill="#0c34dd"/><rect x="560.43" y="168.70" width="3.62" height="29.00" fill="#a6281d"/><rect x="564.05" y="160.70" width="3.62" height="37.00" fill="#7c6ce8"/><rect x="573.23" y="168.70" width="3.62" height="29.00" fill="#0c34dd"/><rect x="576.85" y="166.20" width="3.62" height="31.50" fill="#a6281d"/><rect x="580.47" y="156.00" width="3.62" height="41.70" fill="#7c6ce8"/><rect x="589.65" y="177.90" width="3.62" height="19.80" fill="#0c34dd"/><rect x="593.27" y="172.40" width="3.62" height="25.30" fill="#a6281d"/><rect x="596.89" y="168.40" width="3.62" height="29.30" fill="#7c6ce8"/><rect x="606.08" y="179.50" width="3.62" height="18.20" fill="#0c34dd"/><rect x="609.70" y="177.00" width="3.62" height="20.70" fill="#a6281d"/><rect x="613.32" y="176.50" width="3.62" height="21.20" fill="#7c6ce8"/><rect x="622.50" y="125.20" width="3.62" height="72.50" fill="#0c34dd"/><rect x="626.12" y="144.40" width="3.62" height="53.30" fill="#a6281d"/><rect x="629.74" y="135.20" width="3.62" height="62.50" fill="#7c6ce8"/><rect x="638.92" y="163.30" width="3.62" height="34.40" fill="#0c34dd"/><rect x="642.54" y="163.30" width="3.62" height="34.40" fill="#a6281d"/><rect x="646.16" y="157.80" width="3.62" height="39.90" fill="#7c6ce8"/><rect x="655.34" y="173.70" width="3.62" height="24.00" fill="#0c34dd"/><rect x="658.96" y="169.00" width="3.62" height="28.70" fill="#a6281d"/><rect x="662.58" y="167.90" width="3.62" height="29.80" fill="#7c6ce8"/><rect x="671.76" y="133.00" width="3.62" height="64.70" fill="#0c34dd"/><rect x="675.38" y="136.00" width="3.62" height="61.70" fill="#a6281d"/><rect x="679.00" y="136.90" width="3.62" height="60.80" fill="#7c6ce8"/><rect x="688.19" y="175.40" width="3.62" height="22.30" fill="#0c34dd"/><rect x="691.81" y="151.40" width="3.62" height="46.30" fill="#a6281d"/><rect x="695.43" y="147.70" width="3.62" height="50.00" fill="#7c6ce8"/><rect x="704.61" y="141.90" width="3.62" height="55.80" fill="#0c34dd"/><rect x="708.23" y="136.00" width="3.62" height="61.70" fill="#a6281d"/><rect x="711.85" y="142.70" width="3.62" height="55.00" fill="#7c6ce8"/></g>
<g stroke="#a3b0b6" fill="none">
<line x1="274.70" y1="30.80" x2="274.70" y2="198.70" stroke-width="1.6"/>
<line x1="718.10" y1="30.80" x2="718.10" y2="198.70" stroke-width="1.15"/>
<line x1="272.10" y1="198.20" x2="721.30" y2="198.20" stroke-width="1.1"/>
<line x1="272.10" y1="31.30" x2="274.20" y2="31.30" stroke-width="1" stroke="#8a959b"/>
<line x1="272.10" y1="59.12" x2="274.20" y2="59.12" stroke-width="1" stroke="#8a959b"/>
<line x1="272.10" y1="86.93" x2="274.20" y2="86.93" stroke-width="1" stroke="#8a959b"/>
<line x1="272.10" y1="114.75" x2="274.20" y2="114.75" stroke-width="1" stroke="#8a959b"/>
<line x1="272.10" y1="142.57" x2="274.20" y2="142.57" stroke-width="1" stroke="#8a959b"/>
<line x1="272.10" y1="170.38" x2="274.20" y2="170.38" stroke-width="1" stroke="#8a959b"/>
<line x1="272.10" y1="198.20" x2="274.20" y2="198.20" stroke-width="1" stroke="#8a959b"/>
<line x1="718.10" y1="31.30" x2="721.30" y2="31.30" stroke-width="1"/>
<line x1="718.10" y1="52.16" x2="721.30" y2="52.16" stroke-width="1"/>
<line x1="718.10" y1="73.02" x2="721.30" y2="73.02" stroke-width="1"/>
<line x1="718.10" y1="93.89" x2="721.30" y2="93.89" stroke-width="1"/>
<line x1="718.10" y1="114.75" x2="721.30" y2="114.75" stroke-width="1"/>
<line x1="718.10" y1="135.61" x2="721.30" y2="135.61" stroke-width="1"/>
<line x1="718.10" y1="156.47" x2="721.30" y2="156.47" stroke-width="1"/>
<line x1="718.10" y1="177.34" x2="721.30" y2="177.34" stroke-width="1"/>
<line x1="718.10" y1="198.20" x2="721.30" y2="198.20" stroke-width="1"/>
<line x1="274.70" y1="198.20" x2="274.70" y2="201.10" stroke-width="1"/>
<line x1="291.12" y1="198.20" x2="291.12" y2="201.10" stroke-width="1"/>
<line x1="307.54" y1="198.20" x2="307.54" y2="201.10" stroke-width="1"/>
<line x1="323.97" y1="198.20" x2="323.97" y2="201.10" stroke-width="1"/>
<line x1="340.39" y1="198.20" x2="340.39" y2="201.10" stroke-width="1"/>
<line x1="356.81" y1="198.20" x2="356.81" y2="201.10" stroke-width="1"/>
<line x1="373.23" y1="198.20" x2="373.23" y2="201.10" stroke-width="1"/>
<line x1="389.66" y1="198.20" x2="389.66" y2="201.10" stroke-width="1"/>
<line x1="406.08" y1="198.20" x2="406.08" y2="201.10" stroke-width="1"/>
<line x1="422.50" y1="198.20" x2="422.50" y2="201.10" stroke-width="1"/>
<line x1="438.92" y1="198.20" x2="438.92" y2="201.10" stroke-width="1"/>
<line x1="455.34" y1="198.20" x2="455.34" y2="201.10" stroke-width="1"/>
<line x1="471.77" y1="198.20" x2="471.77" y2="201.10" stroke-width="1"/>
<line x1="488.19" y1="198.20" x2="488.19" y2="201.10" stroke-width="1"/>
<line x1="504.61" y1="198.20" x2="504.61" y2="201.10" stroke-width="1"/>
<line x1="521.03" y1="198.20" x2="521.03" y2="201.10" stroke-width="1"/>
<line x1="537.46" y1="198.20" x2="537.46" y2="201.10" stroke-width="1"/>
<line x1="553.88" y1="198.20" x2="553.88" y2="201.10" stroke-width="1"/>
<line x1="570.30" y1="198.20" x2="570.30" y2="201.10" stroke-width="1"/>
<line x1="586.72" y1="198.20" x2="586.72" y2="201.10" stroke-width="1"/>
<line x1="603.14" y1="198.20" x2="603.14" y2="201.10" stroke-width="1"/>
<line x1="619.57" y1="198.20" x2="619.57" y2="201.10" stroke-width="1"/>
<line x1="635.99" y1="198.20" x2="635.99" y2="201.10" stroke-width="1"/>
<line x1="652.41" y1="198.20" x2="652.41" y2="201.10" stroke-width="1"/>
<line x1="668.83" y1="198.20" x2="668.83" y2="201.10" stroke-width="1"/>
<line x1="685.26" y1="198.20" x2="685.26" y2="201.10" stroke-width="1"/>
<line x1="701.68" y1="198.20" x2="701.68" y2="201.10" stroke-width="1"/>
<line x1="718.10" y1="198.20" x2="718.10" y2="201.10" stroke-width="1"/>
</g>
<polyline points="283.1,120.5 299.5,77.0 316.0,86.4 332.4,88.0 348.8,101.4 365.2,125.2 381.6,124.7 398.1,143.5 414.5,171.7 430.9,168.7 447.3,161.2 463.8,146.0 480.2,172.9 496.6,133.5 513.0,147.7 529.4,96.7 545.9,146.9 562.3,148.0 578.7,141.9 595.1,162.5 611.6,173.7 628.0,109.2 644.4,135.5 660.8,158.5 677.2,112.6 693.7,129.0 710.1,121.8" fill="none" stroke="#20cf1c" stroke-width="2.4" stroke-linejoin="round" stroke-linecap="butt"/>
<g font-size="9.1" fill="#1a1a1a" stroke="#1a1a1a" stroke-width="0.15">
<text x="269.9" y="33.60" text-anchor="end">12</text>
<text x="269.9" y="61.42" text-anchor="end">10</text>
<text x="269.9" y="89.23" text-anchor="end">8</text>
<text x="269.9" y="117.05" text-anchor="end">6</text>
<text x="269.9" y="144.87" text-anchor="end">4</text>
<text x="269.9" y="172.68" text-anchor="end">2</text>
<text x="269.9" y="200.50" text-anchor="end">0</text>
<text x="727.6" y="34.10">1.3</text>
<text x="727.6" y="54.96">1.25</text>
<text x="727.6" y="75.82">1.2</text>
<text x="727.6" y="96.69">1.15</text>
<text x="727.6" y="117.55">1.1</text>
<text x="727.6" y="138.41">1.05</text>
<text x="727.6" y="159.28">1</text>
<text x="727.6" y="180.14">0.95</text>
<text x="727.6" y="201.00">0.9</text>
<text x="284.61" y="213.8" text-anchor="middle">1</text>
<text x="301.07" y="213.8" text-anchor="middle">2</text>
<text x="317.52" y="213.8" text-anchor="middle">3</text>
<text x="333.97" y="213.8" text-anchor="middle">4</text>
<text x="350.43" y="213.8" text-anchor="middle">5</text>
<text x="366.88" y="213.8" text-anchor="middle">6</text>
<text x="383.34" y="213.8" text-anchor="middle">7</text>
<text x="399.79" y="213.8" text-anchor="middle">8</text>
<text x="416.24" y="213.8" text-anchor="middle">9</text>
<text x="432.70" y="213.8" text-anchor="middle">10</text>
<text x="449.15" y="213.8" text-anchor="middle">11</text>
<text x="465.61" y="213.8" text-anchor="middle">12</text>
<text x="482.06" y="213.8" text-anchor="middle">13</text>
<text x="498.52" y="213.8" text-anchor="middle">14</text>
<text x="514.97" y="213.8" text-anchor="middle">15</text>
<text x="531.42" y="213.8" text-anchor="middle">16</text>
<text x="547.88" y="213.8" text-anchor="middle">17</text>
<text x="564.33" y="213.8" text-anchor="middle">18</text>
<text x="580.79" y="213.8" text-anchor="middle">19</text>
<text x="597.24" y="213.8" text-anchor="middle">20</text>
<text x="613.70" y="213.8" text-anchor="middle">21</text>
<text x="630.15" y="213.8" text-anchor="middle">22</text>
<text x="646.60" y="213.8" text-anchor="middle">23</text>
<text x="663.06" y="213.8" text-anchor="middle">24</text>
<text x="679.51" y="213.8" text-anchor="middle">25</text>
<text x="695.97" y="213.8" text-anchor="middle">26</text>
<text x="712.42" y="213.8" text-anchor="middle">27</text>
</g>
<text x="389.6" y="230.5" font-size="20" textLength="192.8" lengthAdjust="spacingAndGlyphs" fill="#000" stroke="#000" stroke-width="0.3">Chromosome regions</text>
<text transform="translate(257.9,198) rotate(-90)" font-size="19.7" textLength="165.8" lengthAdjust="spacingAndGlyphs" fill="#000" stroke="#000" stroke-width="0.3">Relative frequency</text>
<text transform="translate(760.6,146.3) rotate(-90)" font-size="19.2" textLength="62" lengthAdjust="spacingAndGlyphs" fill="#000" stroke="#000" stroke-width="0.3">Av.ΔDq</text>
<rect x="653.2" y="31.9" width="3.6" height="3.6" fill="#2fe0e4"/>
<rect x="653.2" y="40.1" width="3.6" height="3.6" fill="#8e0f1c"/>
<rect x="653.2" y="50.1" width="3.6" height="3.6" fill="#7070e8"/>
<circle cx="655.2" cy="61" r="1.9" fill="#22d322"/>
<g font-size="9.2" fill="#1a1a1a" stroke="#1a1a1a" stroke-width="0.15">
<text x="662.8" y="35.6">Genes</text>
<text x="662.8" y="44.3">CGI</text>
<text x="662.8" y="54.2">Alu</text>
<text x="662.8" y="63.2">Av. ΔDq</text>
</g>
</svg>
</body></html>
